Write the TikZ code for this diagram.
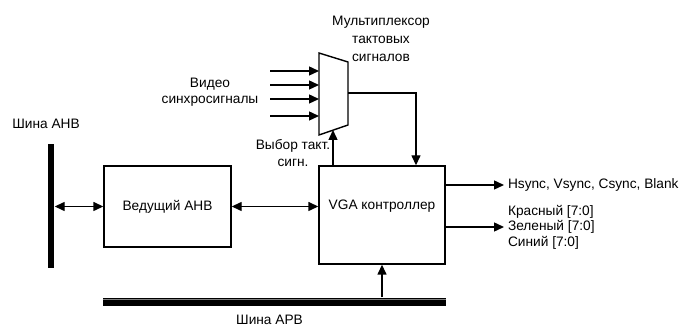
\documentclass[tikz,border=0pt]{standalone}
\usepackage{fontspec}
\setmainfont{Liberation Sans}
\usetikzlibrary{arrows.meta,calc}

\begin{document}
\begin{tikzpicture}[x=1pt,y=-1pt,line width=1.4pt,>={Triangle[length=10pt,width=9pt]},
  every node/.style={font=\fontsize{13.7}{16.5}\selectfont},
  box/.style={draw,inner sep=0pt},bus/.style={fill,inner sep=0pt}]
\useasboundingbox(0,0)rectangle(683,336);
\node[bus,minimum width=6pt,minimum height=124pt](ahb)at(51,206){};
\node[bus,minimum width=343pt,minimum height=8pt](apb)at(274.5,302){};\draw[gray,line width=1pt]($(apb.north west)+(1,2.5)$)--($(apb.north east)+(-1,2.5)$);
\node[box,minimum width=127pt,minimum height=81pt](ahbm)at(167.5,206.5){Ведущий AHB};
\node[box,minimum width=126pt,minimum height=98pt,label={[yshift=9pt]center:VGA контроллер}](vga)at(382,215){};
\coordinate(ma)at(319,53);\coordinate(mb)at(348,62);\coordinate(mc)at(348,125);\coordinate(md)at(319,135);
\draw(ma)--(mb)--(mc)--(md)--cycle;
\foreach \y[count=\i]in{71,85,99,116}{\coordinate(vi\i)at(270,\y);\draw[->](vi\i)--(vi\i-|ma);}
\coordinate(mout)at(348,93);\draw[->](mout)-|([xshift=34pt]vga.north);
\coordinate(msel)at(333,130);\draw[->]([xshift=-49pt]vga.north)--(msel);
\draw[<->](ahb.east|-ahbm)--(ahbm.west);\draw[<->](ahbm.east)--(ahbm.east-|vga.west);
\draw[->](apb.north-|vga.south)--(vga.south);
\node[anchor=west](sync)at(504,185){Hsync, Vsync, Csync, Blank};\draw[->](vga.east|-sync)--(sync.west);
\node[anchor=west,align=left,font=\fontsize{13.7}{15.5}\selectfont](rgb)at(504,227){Красный [7:0]\\Зеленый [7:0]\\Синий [7:0]};\draw[->](vga.east|-rgb)--(rgb.west);
\node(ahbl)at(46,124){Шина AHB};\node(apbl)at(269.5,320){Шина APB};
\node[align=center,font=\fontsize{13.7}{18}\selectfont](muxl)at(381,39){Мультиплексор\\тактовых\\сигналов};
\node[align=center](vidl)at(210,92){Видео\\синхросигналы};
\node[align=center](sell)at(293,153){Выбор такт.\\сигн.};
\end{tikzpicture}
\end{document}
